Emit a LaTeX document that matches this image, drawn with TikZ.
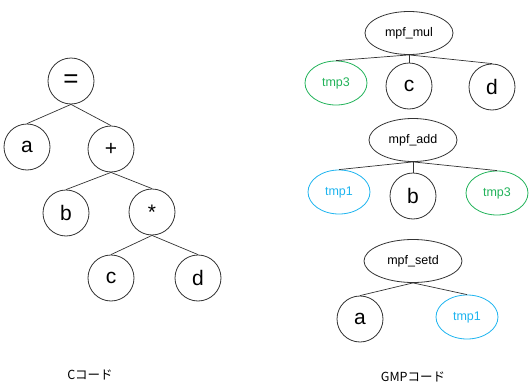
\documentclass[tikz,border=0pt]{standalone}
\usepackage{fontspec}
\setmainfont{Liberation Sans}
\newfontfamily\jpfont{Noto Sans CJK JP}
\usetikzlibrary{shapes.geometric}
\definecolor{tmpgreen}{RGB}{34,179,90}
\definecolor{tmpblue}{RGB}{30,180,239}
\tikzset{
  leaf/.style={circle,draw=black!80,line width=.8pt,minimum size=46pt,inner sep=0pt,font=\fontsize{21}{21}\selectfont},
  func/.style={ellipse,draw=black!80,line width=.8pt,minimum width=88pt,minimum height=43pt,inner sep=0pt,font=\fontsize{12.5}{13}\selectfont},
  tmp/.style={ellipse,draw=#1,text=#1,line width=.8pt,minimum width=62pt,minimum height=44pt,inner sep=0pt,font=\fontsize{12.5}{13}\selectfont},
  link/.style={draw=black!80,line width=.7pt},
  caption/.style={font=\jpfont\fontsize{12.5}{13}\selectfont}
}
\begin{document}
\begin{tikzpicture}[x=1pt,y=-1pt]
      \useasboundingbox (0,0) rectangle (531,383);
      % C code tree
      \node[leaf,font=\fontsize{26}{26}\selectfont] (eq) at (71,81) {=};
      \node[leaf] (a) at (27,147) {a};
      \node[leaf] (plus) at (111,149) {+};
      \node[leaf] (b) at (66,213) {b};
      \node[leaf] (mul) at (152,212) {*};
      \node[leaf] (c) at (111,278) {c};
      \node[leaf] (d) at (198,278) {d};
      \foreach\p/\q in {eq/a,eq/plus,plus/b,plus/mul,mul/c,mul/d}
        \draw[link] (\p.south)--(\q.north);
      \node[caption] (ccode) at (90,375) {Cコード};

      % mpf_mul tmp3 c d
      \node[func] (fmul) at (409,33) {mpf\_mul};
      \node[tmp=tmpgreen] (mulx) at (336,83) {tmp3};
      \node[leaf] (mulc) at (409,86) {c};
      \node[leaf] (muld) at (492,87) {d};
      % mpf_add tmp1 b tmp3
      \node[func] (fadd) at (413,140) {mpf\_add};
      \node[tmp=tmpblue] (addx) at (339,192) {tmp1};
      \node[leaf] (addb) at (413,196) {b};
      \node[tmp=tmpgreen] (addy) at (497,193) {tmp3};
      % mpf_setd a tmp1
      \node[func,minimum width=98pt] (fset) at (413,261) {mpf\_setd};
      \node[leaf] (seta) at (360,319) {a};
      \node[tmp=tmpblue] (setx) at (467,317) {tmp1};
      \foreach\p/\q in {fmul/mulx,fmul/mulc,fmul/muld,fadd/addx,fadd/addb,fadd/addy,fset/seta,fset/setx}
        \draw[link] (\p.south)--(\q.north);
      \node[caption] (gmpcode) at (413,377) {GMPコード};
\end{tikzpicture}
\end{document}
